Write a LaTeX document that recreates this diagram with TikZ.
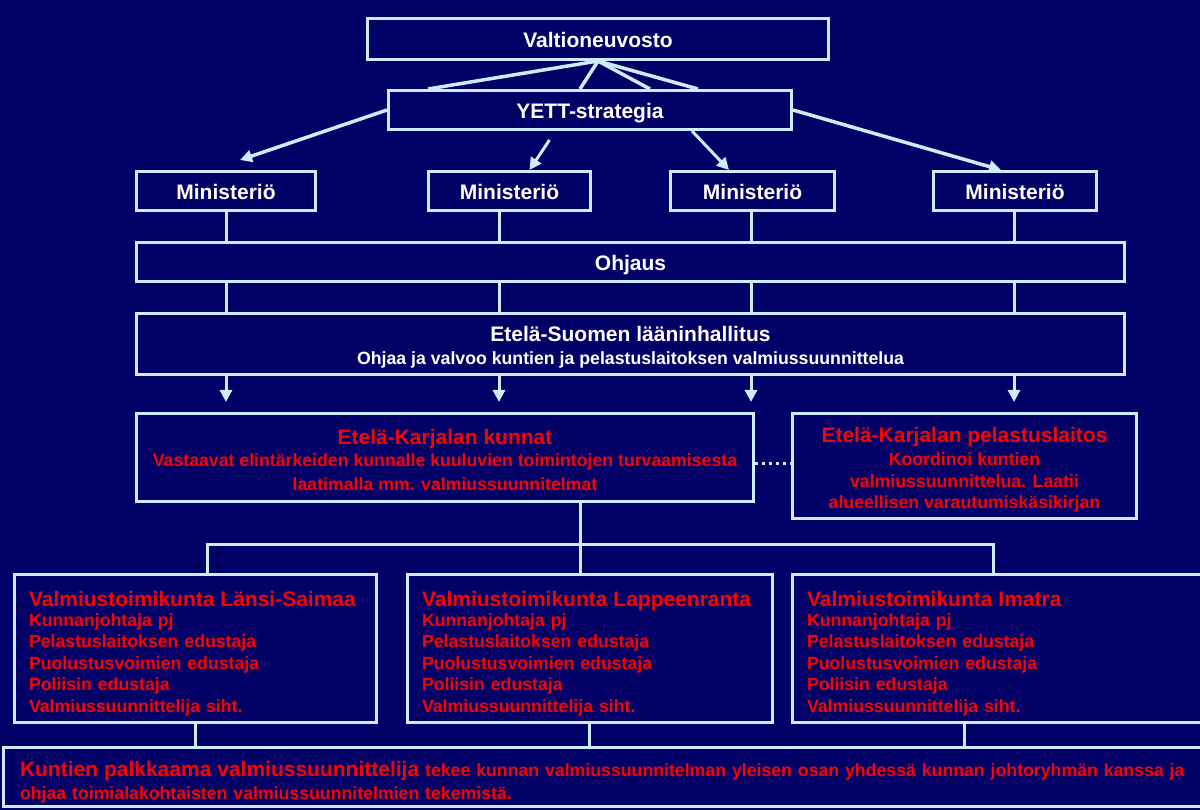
\documentclass[tikz,border=0pt]{standalone}
\usepackage{fontspec}
\setmainfont{Liberation Sans}
\usetikzlibrary{arrows.meta, calc}
\definecolor{navy}{RGB}{0,0,102}
\definecolor{lineblue}{RGB}{204,236,255}
\definecolor{redtext}{RGB}{255,0,0}
\newcommand{\bigtxt}{\fontsize{21}{24}\selectfont\bfseries}
\newcommand{\smalltxt}{\fontsize{17.7}{21.6}\selectfont\bfseries}
\newcommand{\topgap}[1]{\rule{0pt}{#1}}
\begin{document}
\begin{tikzpicture}[x=1pt, y=-1pt,
  box/.style={draw=lineblue, line width=3pt, inner sep=0pt, text=white, font=\bigtxt, align=center},
  single/.style={box, text height=18pt, text depth=0pt},
  redbox/.style={box, text=redtext, font=\smalltxt},
  valbox/.style={redbox, align=left, minimum height=148pt, inner xsep=14.5pt},
  link/.style={draw=lineblue, line width=3pt},
  arrow/.style={link, -{Triangle[length=12pt, width=12pt]}}]

\useasboundingbox (0,0) rectangle (1200,810);
\clip (0,0) rectangle (1200,810);
\fill[navy] (0,0) rectangle (1200,810);

\begin{scope}
\node[single, minimum width=461pt, minimum height=41pt] (valt) at (598,39) {Valtioneuvosto};
\node[single, minimum width=403pt, minimum height=39pt] (yett) at (590,110) {YETT-strategia};

\node[single, minimum width=179pt, minimum height=39pt] (min1) at (226,191) {Ministeriö};
\node[single, minimum width=162pt, minimum height=39pt] (min2) at (509.5,191) {Ministeriö};
\node[single, minimum width=164pt, minimum height=39pt] (min3) at (752.5,191) {Ministeriö};
\node[single, minimum width=163pt, minimum height=39pt] (min4) at (1015,191) {Ministeriö};

\node[single, minimum width=988pt, minimum height=39pt] (ohj) at (630.5,262) {Ohjaus};
\node[box, font=\smalltxt, minimum width=988pt, minimum height=61pt] (laani) at (630.5,344)
  {\topgap{21.5pt}{\bigtxt Etelä-Suomen lääninhallitus}\\[1.4pt] Ohjaa ja valvoo kuntien ja pelastuslaitoksen valmiussuunnittelua};

\node[redbox, minimum width=617pt, minimum height=88pt] (kunnat) at (445,457.5)
  {\topgap{20.3pt}{\bigtxt Etelä-Karjalan kunnat}\\[0.4pt] Vastaavat elintärkeiden kunnalle kuuluvien toimintojen turvaamisesta\\[2.4pt] laatimalla mm. valmiussuunnitelmat};
\node[redbox, minimum width=344pt, minimum height=105pt] (pel) at (964.5,466)
  {\topgap{23.3pt}{\bigtxt Etelä-Karjalan pelastuslaitos}\\[1.4pt] Koordinoi kuntien\\ valmiussuunnittelua. Laatii\\ alueellisen varautumiskäsikirjan};

\node[valbox, text width=333pt] (lansi) at (195.5,648.5)
  {\topgap{25.3pt}\mbox{\bigtxt Valmiustoimikunta Länsi-Saimaa}\\[-1.6pt] Kunnanjohtaja pj\\ Pelastuslaitoksen edustaja\\ Puolustusvoimien edustaja\\ Poliisin edustaja\\ Valmiussuunnittelija siht.};
\node[valbox, text width=336pt] (lapp) at (590,648.5)
  {\topgap{25.3pt}\mbox{\bigtxt Valmiustoimikunta Lappeenranta}\\[-1.6pt] Kunnanjohtaja pj\\ Pelastuslaitoksen edustaja\\ Puolustusvoimien edustaja\\ Poliisin edustaja\\ Valmiussuunnittelija siht.};
\node[valbox, text width=392pt] (imatra) at (1003,648.5)
  {\topgap{25.3pt}\mbox{\bigtxt Valmiustoimikunta Imatra}\\[-1.6pt] Kunnanjohtaja pj\\ Pelastuslaitoksen edustaja\\ Puolustusvoimien edustaja\\ Poliisin edustaja\\ Valmiussuunnittelija siht.};

\node[redbox, align=left, inner xsep=16.5pt, text width=1177pt, minimum height=59pt] (bottom) at (608.5,777)
  {\topgap{25.3pt}\mbox{{\bigtxt Kuntien palkkaama valmiussuunnittelija} tekee kunnan valmiussuunnitelman yleisen osan yhdessä kunnan johtoryhmän kanssa ja}\\[1.4pt] ohjaa toimialakohtaisten valmiussuunnitelmien tekemistä.};

% valtioneuvosto to the strategy
\foreach \x in {428,580,650,698}
  \draw[link, line width=3.5pt] (valt.south) -- (yett.north -| \x,0);

\coordinate (a1) at (240,160);
\coordinate (s2) at (549.5,140);
\draw[arrow, line width=3.5pt] (yett.west) -- (a1);
\draw[arrow] (s2) -- (min2.north -| 529.5,0);
\draw[arrow] (yett.south -| 692,0) -- (min3.north -| 729,0);
\draw[arrow, line width=3.5pt] (yett.east) -- (min4.north -| 1001,0);

\foreach \x [count=\i] in {226,499,751,1014} {
  \draw[link] (min\i.south -| \x,0) -- (ohj.north -| \x,0);
  \draw[link] (ohj.south -| \x,0) -- (laani.north -| \x,0);
}
\foreach \x in {226,499,751}
  \draw[arrow, shorten >=10pt] (laani.south -| \x,0) -- (kunnat.north -| \x,0);
\draw[arrow, shorten >=10pt] (laani.south -| 1014,0) -- (pel.north -| 1014,0);

\draw[link, dash pattern=on 3pt off 4pt] (kunnat.east |- 0,463) -- (pel.west |- 0,463);

\coordinate (split) at (580,544);
\draw[link] (kunnat.south -| split) -- (lapp.north -| split);
\draw[link] (lansi.north -| 207,0) |- (split) -| (imatra.north -| 993,0);

\draw[link] (lansi.south -| 195,0) -- (bottom.north -| 195,0);
\draw[link] (lapp.south -| 589,0) -- (bottom.north -| 589,0);
\draw[link] (imatra.south -| 964,0) -- (bottom.north -| 964,0);
\end{scope}

\end{tikzpicture}
\end{document}
